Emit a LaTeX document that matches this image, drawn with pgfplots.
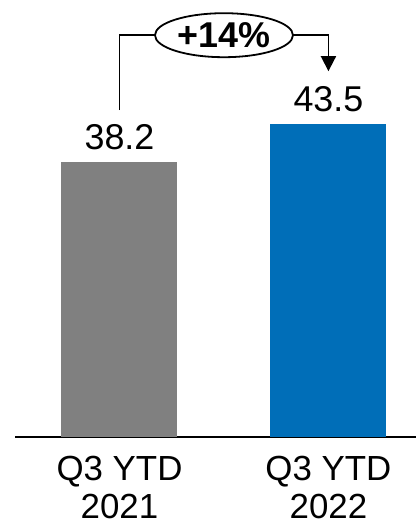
\documentclass[border=0pt]{standalone}
\usepackage{pgfplots}
\pgfplotsset{compat=1.18}
\usepackage{fontspec}
\setmainfont{Liberation Sans}
\usetikzlibrary{shapes.geometric,arrows.meta}
\definecolor{barGray}{RGB}{128,128,128}
\definecolor{barBlue}{RGB}{0,110,184}

\begin{document}
\begin{tikzpicture}[x=1bp,y=1bp]
\useasboundingbox (0,0) rectangle (416,526);
\begin{axis}[
  at={(15bp,89bp)}, anchor=south west,
  scale only axis, width=401bp, height=437bp,
  xmin=-0.5, xmax=1.419, ymin=0, ymax=60.69,
  axis y line=none, axis x line*=bottom,
  x axis line style={line width=1.6bp, -},
  xtick={0,1}, xticklabels={Q3 YTD\\2021, Q3 YTD\\2022},
  major tick length=0pt,
  xticklabel style={align=center, font=\fontsize{35}{38}\selectfont, inner sep=0pt, yshift=-19bp},
  clip=false,
  ybar, bar width=116bp, bar shift=0pt,
  nodes near coords,
  nodes near coords style={font=\fontsize{36}{40}\selectfont, anchor=south, inner sep=0pt, yshift=12bp,
    /pgf/number format/.cd, fixed, fixed zerofill, precision=1, assume math mode=true},
]
\addplot[fill=barGray, draw=none] coordinates {(0,38.2)};
\addplot[fill=barBlue, draw=none] coordinates {(1,43.5)};
% growth bracket from the 2021 label to the 2022 label
\draw[line width=1.8bp] (axis cs:0,45.4) |- (axis cs:0.5,55.8);
\draw[line width=1.8bp, -{Triangle[width=15bp,length=15bp]}] (axis cs:0.5,55.8) -| (axis cs:1,50.8);
\node[ellipse, draw, line width=1.8bp, fill=white, minimum width=138bp, minimum height=44bp, inner sep=0pt,
  font=\fontsize{36}{40}\selectfont\bfseries] at (axis cs:0.5,55.8) {+14\%};
\end{axis}
\end{tikzpicture}
\end{document}
